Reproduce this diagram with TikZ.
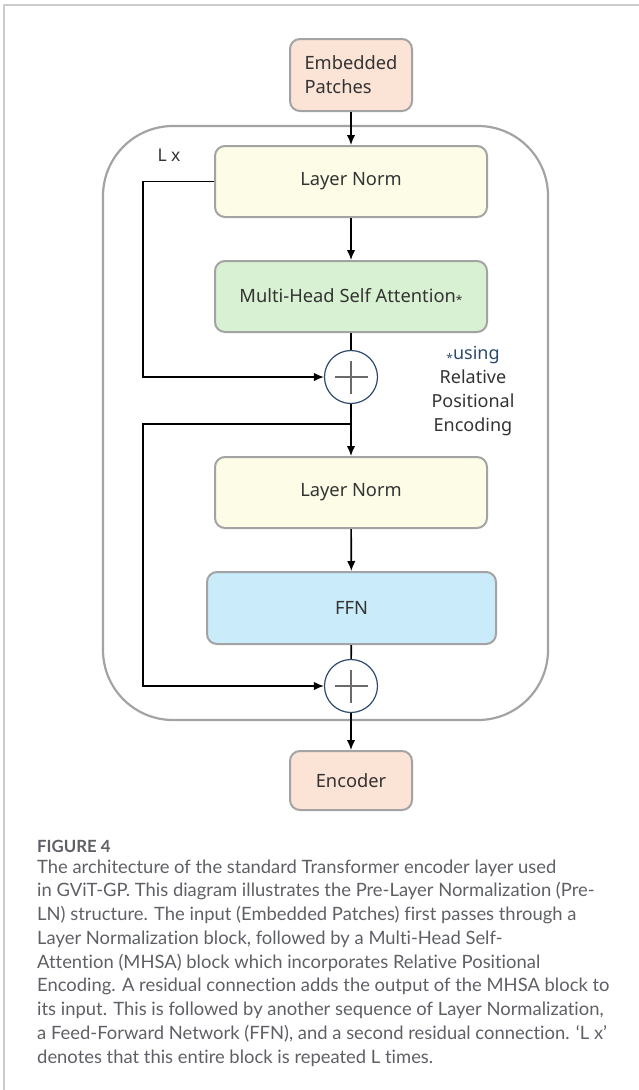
\documentclass[tikz,border=0pt]{standalone}
\usepackage{fontspec}
\setmainfont{Noto Sans}
\newfontfamily\capfont[Ligatures={NoCommon,TeX}]{Lato}
\usetikzlibrary{positioning,arrows.meta,calc}

\definecolor{boxgrey}{HTML}{A3A3A3}
\definecolor{peach}{HTML}{FBE3D6}
\definecolor{lnyellow}{HTML}{FDFDE7}
\definecolor{attngreen}{HTML}{D9F1D3}
\definecolor{ffnblue}{HTML}{C9EBFA}
\definecolor{navy}{HTML}{2E4A6E}
\definecolor{textgrey}{HTML}{333333}
\definecolor{capgrey}{HTML}{5E6066}
\definecolor{framegrey}{HTML}{CCCCCC}
\definecolor{plusgrey}{HTML}{6A6A6A}

\newcommand\rpestar{\raisebox{-0.25ex}{\fontsize{12}{12}\selectfont *}}

\begin{document}
\begin{tikzpicture}
	[   x=1pt,y=-1pt,
	    blockbox/.style={draw=boxgrey,line width=2pt,rounded corners=10pt,fill=#1,inner sep=0pt,
	      text=textgrey,font=\fontsize{18.3}{24}\selectfont},
	    addnode/.style={draw=navy,line width=1.2pt,circle,minimum size=53pt,inner sep=0pt,fill=white},
	]
	\tikzset{normal arrow/.style={draw,line width=1.6pt,-{Latex[length=10pt,width=8.5pt]}}}
	\tikzset{plain line/.style={draw,line width=1.6pt}}
	\useasboundingbox (0,0) rectangle (639,1090);

	% page frame
	\draw[framegrey,line width=1.8pt] (4,1090) -- (4,5) -- (639,5);

	% repeated block
	\node[draw=boxgrey,line width=2.2pt,rounded corners=70pt,minimum width=445pt,minimum height=594pt] (layer-block) at (325.5,423) {};
	\node[text=textgrey,font=\fontsize{17.5}{20}\selectfont] (rep-label) at (169,155) {L x};

	\node[blockbox=peach,minimum width=122pt,minimum height=72pt,align=left] (emb) at (351,75) {Embedded\\Patches};

	\node[blockbox=lnyellow,minimum width=272pt,minimum height=71pt] (ln-1) at (351,181.5) {Layer Norm};
	\node[blockbox=attngreen,minimum width=272pt,minimum height=71pt] (mhsa) at (351,296.5) {Multi-Head Self Attention\rpestar};
	\node[addnode] (add-1) at (351,377) {};

	\node[blockbox=lnyellow,minimum width=272pt,minimum height=71pt] (ln-2) at (351,492.5) {Layer Norm};
	\node[blockbox=ffnblue,minimum width=289pt,minimum height=72pt] (ffn) at (351.5,608) {FFN};
	\node[addnode] (add-2) at (351,686) {};

	\node[blockbox=peach,minimum width=122pt,minimum height=59pt] (enc) at (351,780.5) {Encoder};

	\node[align=center,text=textgrey,font=\fontsize{18}{23.7}\selectfont] (rpe-note) at (473,391)
	  {\textcolor{navy}{\rpestar using}\\Relative\\Positional\\Encoding};

	% plus signs
	\foreach \i in {1,2}
	{
		\draw[plusgrey,line width=1.5pt] ([xshift=-16.5pt]add-\i.center) -- ([xshift=16.5pt]add-\i.center);
		\draw[plusgrey,line width=1.5pt] ([yshift=-16.5pt]add-\i.center) -- ([yshift=16.5pt]add-\i.center);
	}

	% main path
	\path[normal arrow] (emb) -- (ln-1);
	\path[normal arrow] (ln-1) -- (mhsa);
	\path[plain line] (mhsa) -- (add-1);
	\path[normal arrow] (add-1) -- (ln-2);
	\path[normal arrow] (ln-2) -- (ffn);
	\path[plain line] (ffn) -- (add-2);
	\path[normal arrow] (add-2) -- (enc);

	% residual connections
	\coordinate (skip-1) at (143,181.5);
	\coordinate (branch-2) at (351,424);
	\coordinate (skip-2) at (143,424);
	\path[normal arrow] (ln-1.west) -- (skip-1) |- (add-1.west);
	\path[normal arrow] (branch-2) -- (skip-2) |- (add-2.west);

	% caption
	\node[anchor=base west,inner sep=0pt,text=capgrey,font=\capfont\bfseries\fontsize{16.8}{18}\selectfont] (fig-label) at (37,852) {FIGURE 4};
	\foreach \txt [count=\i from 0] in {
		{The architecture of the standard Transformer encoder layer used},
		{in GViT-GP. This diagram illustrates the Pre-Layer Normalization (Pre-},
		{LN) structure. The input (Embedded Patches) first passes through a},
		{Layer Normalization block, followed by a Multi-Head Self-},
		{Attention (MHSA) block which incorporates Relative Positional},
		{Encoding. A residual connection adds the output of the MHSA block to},
		{its input. This is followed by another sequence of Layer Normalization,},
		{a Feed-Forward Network (FFN), and a second residual connection. ‘L x’},
		{denotes that this entire block is repeated L times.}}
	{
		\node[anchor=base west,inner sep=0pt,text=capgrey,font=\capfont\fontsize{18.4}{20}\selectfont] (cap-\i) at (37,{873+23.75*\i}) {\txt};
	}

\end{tikzpicture}
\end{document}
